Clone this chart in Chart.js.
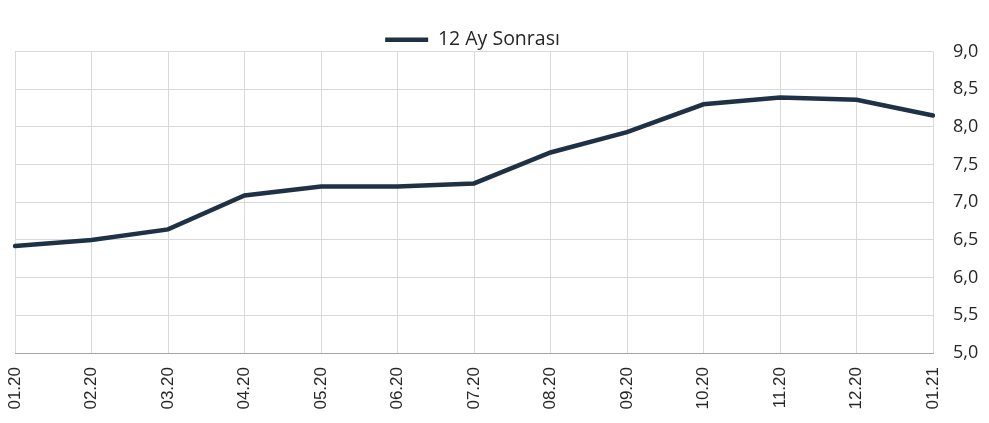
<!DOCTYPE html>
<html>
<head>
<meta charset="utf-8">
<script src="https://cdn.jsdelivr.net/npm/chart.js@4"></script>
<style>
  html, body { margin: 0; padding: 0; background: #fff; }
  #wrap { width: 989px; height: 423px; }
</style>
</head>
<body>
<div id="wrap"><canvas id="rateChart"></canvas></div>
<script>
// months and expected rate
const months = ['01.20', '02.20', '03.20', '04.20', '05.20', '06.20', '07.20', '08.20', '09.20', '10.20', '11.20', '12.20', '01.21'];
const expected12m = [6.42, 6.50, 6.64, 7.09, 7.21, 7.21, 7.25, 7.66, 7.93, 8.30, 8.39, 8.36, 8.15];
const seriesName = '12 Ay Sonrası';

const lineColor = '#1f3245';

// push the legend a bit lower and centre it over the plot area
const legendNudge = {
    id: 'legendNudge',
    afterLayout(chart) {
        const lg = chart.legend;
        if (lg) {
            lg.top += 8;
            lg.bottom += 8;
            lg.left -= 25;
            lg.right -= 25;
        }
    }
};

const ctx = document.getElementById('rateChart').getContext('2d');
const rateChart = new Chart(ctx, {
    type: 'line',
    data: {
        labels: months,
        datasets: [{
            label: seriesName,
            data: expected12m,
            borderColor: lineColor,
            backgroundColor: lineColor,
            borderWidth: 4.5,
            borderCapStyle: 'round',
            pointRadius: 0,
            pointStyle: 'line',
            tension: 0
        }]
    },
    options: {
        responsive: true,
        maintainAspectRatio: false,
        animation: false,
        layout: { padding: { top: 22, left: 15, right: 9, bottom: 0 } },
        plugins: {
            legend: {
                position: 'top',
                labels: {
                    usePointStyle: true,
                    pointStyleWidth: 43,
                    padding: 0,
                    color: '#262626',
                    font: { family: '"Open Sans"', size: 19.5 }
                }
            },
            tooltip: { enabled: false }
        },
        scales: {
            x: {
                offset: false,
                grid: { color: '#d9d9d9', drawTicks: false },
                border: { color: '#a6a6a6' },
                ticks: {
                    minRotation: 90,
                    maxRotation: 90,
                    padding: 14,
                    color: '#262626',
                    font: { family: '"Liberation Sans"', size: 17 }
                },
                afterFit(scale) { scale.height = 70; }
            },
            y: {
                position: 'right',
                min: 5,
                max: 9,
                grid: { color: '#d9d9d9', drawTicks: false },
                border: { display: false },
                ticks: {
                    stepSize: 0.5,
                    padding: 20,
                    color: '#262626',
                    font: { family: '"Open Sans"', size: 18 },
                    callback: (v) => v.toFixed(1).replace('.', ',')
                },
                afterFit(scale) { scale.width = 47; }
            }
        }
    },
    plugins: [legendNudge]
});
</script>
</body>
</html>
